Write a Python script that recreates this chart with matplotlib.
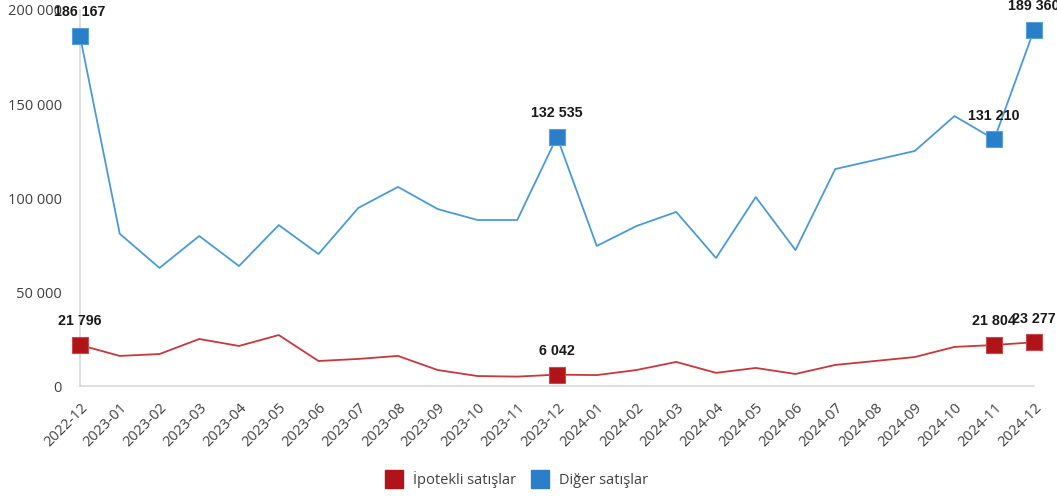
import numpy as np
import matplotlib.pyplot as plt
from matplotlib.lines import Line2D

# data
months = ["2022-12", "2023-01", "2023-02", "2023-03", "2023-04", "2023-05", "2023-06",
          "2023-07", "2023-08", "2023-09", "2023-10", "2023-11", "2023-12",
          "2024-01", "2024-02", "2024-03", "2024-04", "2024-05", "2024-06",
          "2024-07", "2024-08", "2024-09", "2024-10", "2024-11", "2024-12"]
ipotekli = [21796, 16000, 17000, 25000, 21300, 27100, 13300, 14400, 16000, 8500, 5300, 5000,
            6042, 5800, 8500, 12800, 7000, 9600, 6400, 11200, 13300, 15400, 20800, 21804, 23277]
diger = [186167, 81000, 62800, 79800, 63800, 85600, 70200, 94700, 105900, 94100, 88300, 88300,
         132535, 74500, 85100, 92600, 68100, 100500, 72300, 115400, 120200, 125000, 143600,
         131210, 189360]
highlight = [0, 12, 23, 24]

red_line = "#c8383b"
red_mark = "#b01419"
blue_line = "#4a9ad8"
blue_mark = "#2a7fc8"

plt.rcParams["font.family"] = ["Open Sans", "DejaVu Sans"]

def fmt(v):
    return f"{v:,}".replace(",", " ")

fig = plt.figure(figsize=(10.57, 4.97), dpi=100)
ax = fig.add_axes([80/1057, 111/497, (1034-80)/1057, 376/497])

x = np.arange(len(months))
ax.plot(x, diger, color=blue_line, lw=1.3, clip_on=False)
ax.plot(x, ipotekli, color=red_line, lw=1.3, clip_on=False)
for i in highlight:
    ax.plot(x[i], diger[i], "s", ms=12, color=blue_mark, mec="#5aa0dc", mew=0.8, clip_on=False, zorder=5)
    ax.plot(x[i], ipotekli[i], "s", ms=12, color=red_mark, mec="#c84a4d", mew=0.8, clip_on=False, zorder=5)
    ax.annotate(fmt(diger[i]), (x[i], diger[i]), xytext=(0, 12), textcoords="offset points",
                ha="center", va="bottom", fontsize=10.3, fontweight="bold", color="#1a1a1a",
                family="Liberation Sans", annotation_clip=False)
    ax.annotate(fmt(ipotekli[i]), (x[i], ipotekli[i]), xytext=(0, 12), textcoords="offset points",
                ha="center", va="bottom", fontsize=10.3, fontweight="bold", color="#1a1a1a",
                family="Liberation Sans", annotation_clip=False)

ax.set_xlim(0, len(months) - 1)
ax.set_ylim(0, 200000)
ax.set_yticks([0, 50000, 100000, 150000, 200000])
ax.set_yticklabels([fmt(v) for v in [0, 50000, 100000, 150000, 200000]])
ax.set_xticks(x)
ax.set_xticklabels(months, rotation=45, ha="right", rotation_mode="anchor")
ax.tick_params(length=0, labelsize=10.5, colors="#404040")
ax.tick_params(axis="y", pad=13)
ax.tick_params(axis="x", pad=10)
for s in ["top", "right"]:
    ax.spines[s].set_visible(False)
for s in ["left", "bottom"]:
    ax.spines[s].set_color("#d9d9d9")
    ax.spines[s].set_linewidth(1.2)

handles = [Line2D([], [], ls="", marker="s", ms=13, color=red_mark),
           Line2D([], [], ls="", marker="s", ms=13, color=blue_mark)]
fig.legend(handles, ["İpotekli satışlar", "Diğer satışlar"], loc="center",
           bbox_to_anchor=(0.486, 0.035), ncol=2, frameon=False, fontsize=10.5,
           handletextpad=0.3, columnspacing=0.6, labelcolor="#404040")

fig.savefig("out.png", dpi=100)
